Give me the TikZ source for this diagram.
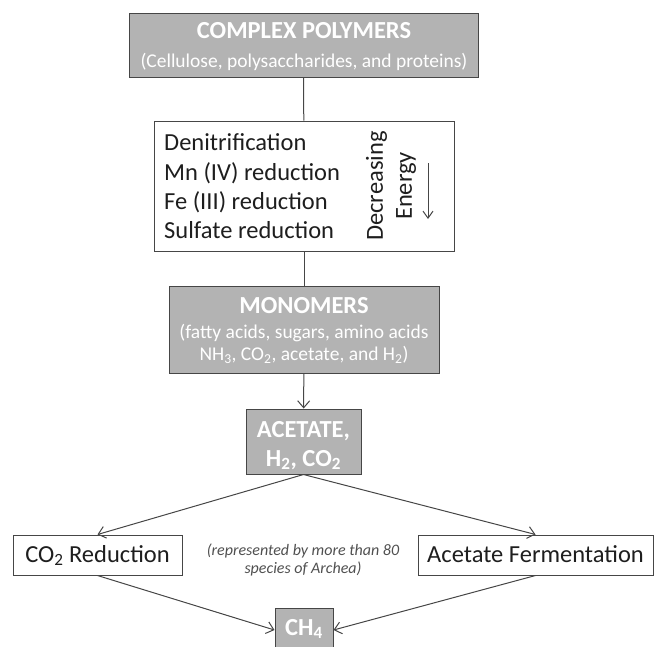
\documentclass[tikz,border=0pt]{standalone}
\usepackage{fontspec}
\setmainfont{Carlito}
\usetikzlibrary{arrows.meta}
\definecolor{boxgray}{RGB}{179,179,179}
\definecolor{edge}{RGB}{70,70,70}
\definecolor{txt}{RGB}{30,30,30}
\definecolor{note}{RGB}{80,80,80}
\tikzset{
  gbox/.style={draw=edge, fill=boxgray, line width=1pt, inner sep=0pt},
  wbox/.style={draw=edge, fill=white, line width=1pt, inner sep=0pt},
  titletext/.style={text=white, inner sep=0pt, font=\fontsize{24.5}{29}\selectfont\bfseries},
  subtext/.style={text=white, inner sep=0pt, font=\fontsize{19.5}{23}\selectfont},
  bigtext/.style={text=txt, inner sep=0pt, font=\fontsize{24.5}{29}\selectfont},
  notetext/.style={text=note, inner sep=0pt, font=\fontsize{16}{18}\selectfont\itshape},
  conn/.style={draw=edge, line width=1pt},
  arr/.style={conn, -{Straight Barb[length=7pt,width=12pt,line width=1pt]}}
}
\begin{document}
\begin{tikzpicture}[x=1pt,y=-1pt]
\useasboundingbox (0,0) rectangle (655,646);
\clip (0,0) rectangle (655,646);
% boxes
\node[gbox, minimum width=349, minimum height=64] (poly) at (303.5,45) {};
\node[wbox, minimum width=300, minimum height=130] (proc) at (304,186) {};
\node[gbox, minimum width=270, minimum height=87] (mono) at (304,329.5) {};
\node[gbox, minimum width=115, minimum height=65] (acet) at (303.5,441.5) {};
\node[wbox, minimum width=169, minimum height=40] (co2) at (97.5,555) {};
\node[wbox, minimum width=235, minimum height=40] (af) at (535.5,555) {};
\node[gbox, minimum width=58, minimum height=44] (ch4) at (304,630) {};
% texts
\node[titletext, anchor=base] (polyT) at (304,38) {COMPLEX POLYMERS};
\node[subtext, anchor=base] (polyS) at (304,67) {(Cellulose, polysaccharides, and proteins)};
\node[bigtext, anchor=base west] (p1) at (164,150) {Denitrification};
\node[bigtext, anchor=base west] (p2) at (164,180) {Mn (IV) reduction};
\node[bigtext, anchor=base west] (p3) at (164,209) {Fe (III) reduction};
\node[bigtext, anchor=base west] (p4) at (164,238) {Sulfate reduction};
\node[bigtext, rotate=90, align=center] (dec) at (391,186) {Decreasing\\Energy};
\coordinate (e1) at (428,163);
\coordinate (e2) at (428,219);
\node[titletext, anchor=base] (monoT) at (304,313) {MONOMERS};
\node[subtext, anchor=base] (monoS1) at (304,338) {(fatty acids, sugars, amino acids};
\node[subtext, anchor=base] (monoS2) at (304,360) {NH\textsubscript{3}, CO\textsubscript{2}, acetate, and H\textsubscript{2})};
\node[titletext, anchor=base] (acetT1) at (303.5,437) {ACETATE,};
\node[titletext, anchor=base] (acetT2) at (303.5,466) {H\textsubscript{2}, CO\textsubscript{2}};
\node[bigtext, anchor=base] (co2T) at (97.5,562) {CO\textsubscript{2} Reduction};
\node[bigtext, anchor=base] (afT) at (535.5,562) {Acetate Fermentation};
\node[notetext, anchor=base] (n1) at (303,555) {(represented by more than 80};
\node[notetext, anchor=base] (n2) at (303,573) {species of Archea)};
\node[titletext, anchor=base] (ch4T) at (304,635) {CH\textsubscript{4}};
% connectors
\draw[conn] (poly) -- (proc);
\draw[conn] (proc) -- (mono);
\draw[arr] (mono) -- (acet);
\draw[arr] (acet.south) -- (co2.north);
\draw[arr] (acet.south) -- (af.north);
\draw[arr] (co2.south) -- (ch4.west);
\draw[arr] (af.south) -- (ch4.east);
\draw[conn, -{Straight Barb[length=7pt,width=10pt,line width=1pt]}] (e1) -- (e2);
\end{tikzpicture}
\end{document}
